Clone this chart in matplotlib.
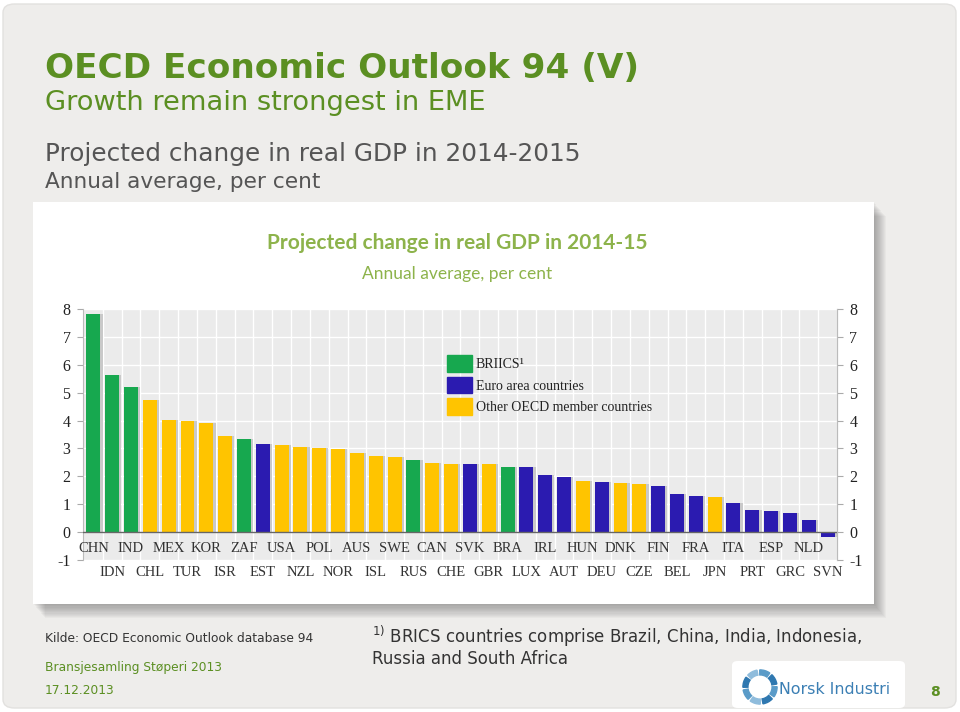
import matplotlib.pyplot as plt
import matplotlib.patches as mpatches
from matplotlib.patches import FancyBboxPatch, Rectangle, Wedge
import numpy as np

plt.rcParams['axes.unicode_minus'] = False

# data
countries = ['CHN', 'IDN', 'IND', 'CHL', 'MEX', 'TUR', 'KOR', 'ISR', 'ZAF', 'EST',
             'USA', 'NZL', 'POL', 'NOR', 'AUS', 'ISL', 'SWE', 'RUS', 'CAN', 'CHE',
             'SVK', 'GBR', 'BRA', 'LUX', 'IRL', 'AUT', 'HUN', 'DEU', 'DNK', 'CZE',
             'FIN', 'BEL', 'FRA', 'JPN', 'ITA', 'PRT', 'ESP', 'GRC', 'NLD', 'SVN']
growth = [7.81, 5.62, 5.19, 4.72, 4.02, 3.99, 3.90, 3.43, 3.34, 3.15,
          3.13, 3.06, 3.03, 2.99, 2.83, 2.73, 2.69, 2.60, 2.47, 2.46,
          2.45, 2.45, 2.35, 2.33, 2.05, 1.99, 1.85, 1.81, 1.76, 1.73,
          1.67, 1.36, 1.30, 1.25, 1.03, 0.78, 0.75, 0.70, 0.42, -0.18]
# B = BRIICS, E = euro area, O = other OECD
group = ['B', 'B', 'B', 'O', 'O', 'O', 'O', 'O', 'B', 'E',
         'O', 'O', 'O', 'O', 'O', 'O', 'O', 'B', 'O', 'O',
         'E', 'O', 'B', 'E', 'E', 'E', 'O', 'E', 'O', 'O',
         'E', 'E', 'E', 'O', 'E', 'E', 'E', 'E', 'E', 'E']
group_labels = {'B': 'BRIICS\u00b9', 'E': 'Euro area countries',
                'O': 'Other OECD member countries'}
group_colors = {'B': '#17a84f', 'E': '#2b1bb0', 'O': '#ffc400'}

W, H = 960, 712


def fx(x):
    return x / W


def fy(y):
    return 1 - y / H


fig = plt.figure(figsize=(9.6, 7.12), dpi=100, facecolor='white')

# slide background
slide = FancyBboxPatch((fx(3), fy(708)), fx(953), 704 / H,
                       boxstyle='round,pad=0,rounding_size=0.012',
                       transform=fig.transFigure, facecolor='#eeedeb',
                       edgecolor='#e2e1df', lw=1, zorder=0)
fig.patches.append(slide)

# soft shadow behind the chart picture
for k in range(12, 0, -1):
    fig.patches.append(Rectangle((fx(33 + k * 1.0), fy(604 + k * 1.2)), fx(841), 402 / H,
                                 transform=fig.transFigure, facecolor='#444444',
                                 alpha=0.04, lw=0, zorder=1))
fig.patches.append(Rectangle((fx(33), fy(604)), fx(841), 402 / H,
                             transform=fig.transFigure, facecolor='white',
                             lw=0, zorder=2))

# slide texts
green = '#5b8f22'
fig.text(fx(45), fy(78), 'OECD Economic Outlook 94 (V)', color=green,
         fontsize=24.7, fontweight='bold', va='baseline', family='DejaVu Sans')
fig.text(fx(45), fy(110), 'Growth remain strongest in EME', color=green,
         fontsize=19.6, va='baseline', family='DejaVu Sans')
fig.text(fx(45), fy(161), 'Projected change in real GDP in 2014-2015', color='#555555',
         fontsize=17.8, va='baseline', family='DejaVu Sans')
fig.text(fx(45), fy(188), 'Annual average, per cent', color='#555555',
         fontsize=15.6, va='baseline', family='DejaVu Sans')

# chart titles inside the picture
fig.text(fx(457), fy(249), 'Projected change in real GDP in 2014-15', color='#8db34b',
         fontsize=15, fontweight='bold', ha='center', va='baseline', family='Lato',
         zorder=5)
fig.text(fx(457), fy(279), 'Annual average, per cent', color='#8db34b',
         fontsize=12.5, ha='center', va='baseline', family='Lato', zorder=5)

# the bar chart
ax = fig.add_axes([fx(83), fy(560), fx(837 - 83), (560 - 309) / H], zorder=3)
x = np.arange(len(countries))
colors = [group_colors[g] for g in group]
ax.set_facecolor('#ebebeb')
ax.bar(x + 0.12, growth, width=0.74, color='#c9c9c9', zorder=2)
ax.bar(x, growth, width=0.74, color=colors, zorder=3)
ax.axhline(0, color='#666666', lw=1, zorder=4)

ax.set_xlim(-0.55, len(countries) - 0.5)
ax.set_ylim(-1, 8)
ax.set_yticks(range(-1, 9))
ax.set_xticks([])
ax.set_xticks(x + 0.5, minor=True)
ax.grid(axis='y', color='white', lw=1, zorder=1)
ax.grid(axis='x', which='minor', color='white', lw=1, zorder=1)
ax.tick_params(axis='x', which='both', length=0)
ax.tick_params(axis='y', length=4, color='#aaaaaa', labelsize=11.5,
               labelcolor='#222222', pad=5)
for lab in ax.get_yticklabels():
    lab.set_family('Liberation Serif')
for side in ['top', 'bottom']:
    ax.spines[side].set_visible(False)
for side in ['left', 'right']:
    ax.spines[side].set_color('#bbbbbb')

axr = ax.twinx()
axr.set_ylim(-1, 8)
axr.set_yticks(range(-1, 9))
axr.tick_params(axis='y', length=4, color='#aaaaaa', labelsize=11.5,
                labelcolor='#222222', pad=5)
for lab in axr.get_yticklabels():
    lab.set_family('Liberation Serif')
for side in ['top', 'bottom', 'left']:
    axr.spines[side].set_visible(False)
axr.spines['right'].set_color('#bbbbbb')

# country labels, alternating in two rows
for i, name in enumerate(countries):
    yy = -0.6 if i % 2 == 0 else -1.45
    ax.text(i, yy, name, ha='center', va='center', fontsize=10.5,
            family='Liberation Serif', color='#333333', clip_on=False, zorder=5)

handles = [mpatches.Patch(color=group_colors[g], label=group_labels[g]) for g in ['B', 'E', 'O']]
leg = ax.legend(handles=handles, loc='upper left', bbox_to_anchor=(0.475, 0.84),
                frameon=False, prop={'family': 'Liberation Serif', 'size': 10},
                handlelength=1.8, handleheight=1.5, labelspacing=0.35,
                handletextpad=0.3, borderaxespad=0)
for t in leg.get_texts():
    t.set_color('#222222')

# footer
fig.text(fx(45), fy(642), 'Kilde: OECD Economic Outlook database 94', color='#333333',
         fontsize=8.8, va='baseline', family='DejaVu Sans')
fig.text(fx(45), fy(671), 'Bransjesamling St\u00f8peri 2013', color=green,
         fontsize=8.8, va='baseline', family='DejaVu Sans')
fig.text(fx(45), fy(694), '17.12.2013', color=green,
         fontsize=8.8, va='baseline', family='DejaVu Sans')
fig.text(fx(372), fy(643), '$^{1)}$ BRICS countries comprise Brazil, China, India, Indonesia,',
         color='#333333', fontsize=12, va='baseline', family='DejaVu Sans')
fig.text(fx(372), fy(664), 'Russia and South Africa',
         color='#333333', fontsize=12, va='baseline', family='DejaVu Sans')

# logo box
fig.patches.append(FancyBboxPatch((fx(732), fy(708)), fx(173), 47 / H,
                                  boxstyle='round,pad=0,rounding_size=0.006',
                                  transform=fig.transFigure, facecolor='white',
                                  lw=0, zorder=2))
lax = fig.add_axes([fx(742), fy(705), fx(36), 36 / H], zorder=4)
lax.set_xlim(-1, 1)
lax.set_ylim(-1, 1)
lax.set_aspect('equal')
lax.axis('off')
for k, a0 in enumerate(range(10, 360, 45)):
    lax.add_patch(Wedge((0, 0), 0.95, a0, a0 + 36, width=0.28,
                        color=['#2f78b0', '#5a9bc8', '#8fbcdc'][k % 3]))
fig.text(fx(779), fy(694), 'Norsk Industri', color='#3b7fb4', fontsize=11.4,
         va='baseline', family='DejaVu Sans', zorder=5)
fig.text(fx(930), fy(696), '8', color=green, fontsize=10, fontweight='bold',
         va='baseline', family='DejaVu Sans')

plt.savefig('out.png', dpi=100, facecolor=fig.get_facecolor())
